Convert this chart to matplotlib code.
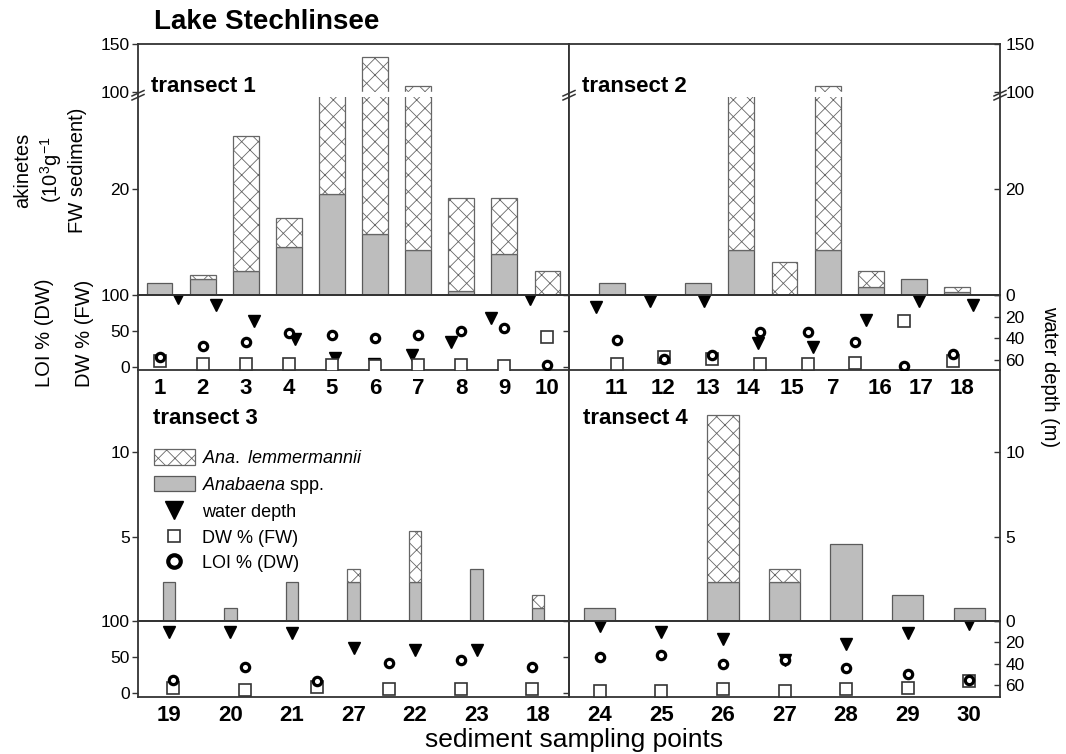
import matplotlib.pyplot as plt
import numpy as np
from matplotlib.lines import Line2D
from matplotlib.patches import Patch

plt.rcParams['font.family'] = ['Liberation Sans', 'DejaVu Sans']
plt.rcParams['mathtext.fontset'] = 'custom'
plt.rcParams['mathtext.rm'] = 'Liberation Sans'
plt.rcParams['mathtext.it'] = 'Liberation Sans:italic'
plt.rcParams['hatch.linewidth'] = 0.6
plt.rcParams['hatch.color'] = '#555555'

# ---------------- data ----------------
# transect 1
t1_labels = ['1', '2', '3', '4', '5', '6', '7', '8', '9', '10']
t1_spp = [2.3, 3.0, 4.6, 9.1, 19.1, 11.5, 8.5, 0.76, 7.7, 0]
t1_lem = [0, 0.8, 25.4, 5.4, 76, 125, 98.5, 17.6, 10.7, 4.6]
t1_dw = [8.8, 4.6, 4.6, 4.0, 3.7, 1.8, 3.2, 3.2, 1.8, 42.4]
t1_loi = [14.7, 29.5, 34.6, 47, 44.7, 40, 44.7, 50.7, 54, 3.2]
t1_depth_x = [1.43, 2.3, 3.2, 4.14, 5.07, 5.97, 6.86, 7.76, 8.69, 9.6]
t1_depth = [3.1, 9.2, 23.7, 41, 58, 64, 55.5, 43, 21.5, 4]

# transect 2
t2_labels = ['11', '12', '13', '14', '15', '7', '16', '17', '18']
t2_label_x = [1.61, 2.68, 3.72, 4.65, 5.67, 6.63, 7.72, 8.67, 9.62]
t2_bar_x = [1.5, 2.5, 3.5, 4.5, 5.5, 6.5, 7.5, 8.5, 9.5]
t2_spp = [2.3, 0, 2.3, 8.5, 0, 8.5, 1.6, 3.1, 0.63]
t2_lem = [0, 0, 0, 89.5, 6.2, 98.5, 3.0, 0, 0.97]
t2_point_x = [1.61, 2.71, 3.82, 4.93, 6.05, 7.14, 8.27, 9.4]
t2_dw = [4.6, 14.7, 11, 4.6, 4.6, 6.5, 64.5, 8.8]
t2_loi = [37.8, 12, 17, 49.3, 48.4, 34.6, 2.3, 18.4]
t2_depth_x = [1.13, 2.38, 3.63, 4.89, 6.15, 7.38, 8.63, 9.88]
t2_depth = [10.8, 5.2, 5.2, 44, 47.7, 23, 5.2, 9.2]

# transect 3
t3_labels = ['19', '20', '21', '27', '22', '23', '18']
t3_spp = [2.3, 0.74, 2.3, 2.3, 2.3, 3.06, 0.74]
t3_lem = [0, 0, 0, 0.76, 3.04, 0, 0.76]
t3_point_x = [1.07, 2.24, 3.4, 4.57, 5.74, 6.9]
t3_dw = [6.9, 4.6, 8.3, 5.5, 5.5, 5.5]
t3_loi = [18.3, 35.8, 17, 41.3, 45.9, 36.7]
t3_depth_x = [1, 2, 3, 4, 5, 6]
t3_depth = [10.3, 10.3, 11.9, 25.9, 26.9, 26.9]

# transect 4
t4_labels = ['24', '25', '26', '27', '28', '29', '30']
t4_spp = [0.77, 0, 2.32, 2.32, 4.58, 1.53, 0.77]
t4_lem = [0, 0, 9.92, 0.76, 0, 0, 0]
t4_dw = [3.7, 3.7, 5.5, 3.7, 5.5, 6.9, 17.4]
t4_loi = [49.5, 52.8, 39.9, 45.9, 34.4, 26.6, 18.3]
t4_depth = [5, 10.9, 17.2, 37, 21.9, 11.9, 3.1]

# ---------------- style ----------------
W, H = 1066, 754
GRAY = '#bdbdbd'
EDGE = '#5a5a5a'
FRAME = '#333333'
TICK_FS = 12.5

fig = plt.figure(figsize=(W / 100, H / 100), dpi=100)


def panel(x0, y0, x1, y1):
    # pixel box (top-left origin) -> figure axes
    return fig.add_axes([x0 / W, 1 - y1 / H, (x1 - x0) / W, (y1 - y0) / H])


def frame(ax, top=True, bottom=True, left=True, right=True):
    for side, on in zip(['top', 'bottom', 'left', 'right'], [top, bottom, left, right]):
        ax.spines[side].set_visible(on)
        ax.spines[side].set_color(FRAME)
        ax.spines[side].set_linewidth(1.3)
    ax.set_xticks([])


def yticks(ax, ticks, side='left', labels=None):
    ax.set_yticks(ticks)
    if labels is not None:
        ax.set_yticklabels(labels)
    if side == 'left':
        ax.tick_params(axis='y', direction='out', length=4, width=1, color=FRAME,
                       labelsize=TICK_FS, pad=2, left=True, right=False,
                       labelleft=True, labelright=False)
    elif side == 'right':
        ax.yaxis.set_ticks_position('right')
        ax.tick_params(axis='y', direction='in', length=4, width=1, color=FRAME,
                       labelsize=TICK_FS, pad=4, left=False, right=True,
                       labelleft=False, labelright=True)
    else:
        ax.tick_params(axis='y', direction='out', length=4, width=1, color=FRAME,
                       left=True, labelleft=False)


def draw_bars(ax, x, spp, lem, width):
    x = np.asarray(x, float)
    spp = np.asarray(spp, float)
    lem = np.asarray(lem, float)
    m = spp > 0
    ax.bar(x[m], spp[m], width, color=GRAY, edgecolor=EDGE, linewidth=0.9)
    m = lem > 0
    ax.bar(x[m], lem[m], width, bottom=spp[m], color='white', edgecolor='#666666',
           hatch='xx', linewidth=0.9)


def draw_points(ax, x, dw, loi, dx, depth, depth_lim, right_labels):
    tw = ax.twinx()
    tw.plot(dx, depth, 'v', color='black', ms=8, ls='none')
    tw.set_ylim(depth_lim, 0)
    for s in tw.spines.values():
        s.set_visible(False)
    if right_labels:
        yticks(tw, [0, 20, 40, 60], 'right', ['', '20', '40', '60'])
    else:
        tw.set_yticks([])
    ax.plot(x, dw, 's', mfc='white', mec='#333333', ms=8, mew=1.2, ls='none', zorder=3)
    ax.plot(x, loi, 'o', mfc='white', mec='black', ms=6, mew=2.3, ls='none', zorder=4)
    ax.set_zorder(tw.get_zorder() + 1)
    ax.patch.set_visible(False)


# ---------------- top row: broken bar axes ----------------
Y_TOP, Y_BRK, Y_BASE, Y_MID = 44.3, 97.3, 295, 370
for k, (x0, x1) in enumerate([(138, 569), (569, 1000)]):
    up = panel(x0, Y_TOP, x1, Y_BRK)
    lo = panel(x0, Y_BRK, x1, Y_BASE)
    if k == 0:
        xs, spp, lem = np.arange(1, 11), t1_spp, t1_lem
    else:
        xs, spp, lem = t2_bar_x, t2_spp, t2_lem
    for ax in (up, lo):
        draw_bars(ax, xs, spp, lem, 0.6)
        ax.set_xlim(0.5, 10.5)
    up.set_ylim(94.8, 150)
    up.axhspan(94.8, 100, color='white', zorder=1.5)
    lo.set_ylim(0, 37.4)
    frame(up, bottom=False)
    frame(lo, top=False)
    if k == 0:
        yticks(up, [100, 150])
        yticks(lo, [20])
    else:
        yticks(up, [100, 150], 'right')
        yticks(lo, [0, 20], 'right')

# break marks on the three vertical lines
for xb in (138, 569, 1000):
    for dy in (0, 4):
        fig.add_artist(Line2D([(xb - 6) / W, (xb + 6) / W],
                              [1 - (96 + dy) / H, 1 - (90.5 + dy) / H],
                              color=FRAME, lw=1.1, transform=fig.transFigure))

# ---------------- top row: points ----------------
sc1 = panel(138, Y_BASE, 569, Y_MID)
sc2 = panel(569, Y_BASE, 1000, Y_MID)
for ax in (sc1, sc2):
    ax.set_xlim(0.5, 10.5)
    ax.set_ylim(-3.7, 100)
    frame(ax)
draw_points(sc1, np.arange(1, 11), t1_dw, t1_loi, t1_depth_x, t1_depth, 69.2, False)
draw_points(sc2, t2_point_x, t2_dw, t2_loi, t2_depth_x, t2_depth, 69.2, True)
yticks(sc1, [0, 50, 100])
yticks(sc2, [0, 50, 100], 'none')
sc1.set_xticks(np.arange(1, 11))
sc1.set_xticklabels(t1_labels)
sc2.set_xticks(t2_label_x)
sc2.set_xticklabels(t2_labels)
for ax in (sc1, sc2):
    ax.tick_params(axis='x', length=0, pad=6, labelsize=16)
    for lab in ax.get_xticklabels():
        lab.set_fontweight('bold')

# ---------------- bottom row ----------------
Y_BASE2, Y_BOT = 620.7, 696.7
b3 = panel(138, Y_MID, 569, Y_BASE2)
b4 = panel(569, Y_MID, 1000, Y_BASE2)
draw_bars(b3, np.arange(1, 8), t3_spp, t3_lem, 0.2)
draw_bars(b4, np.arange(1, 8), t4_spp, t4_lem, 0.51)
for ax in (b3, b4):
    ax.set_xlim(0.5, 7.5)
    ax.set_ylim(0, 14.9)
    frame(ax, top=False)
yticks(b3, [5, 10])
yticks(b4, [0, 5, 10], 'right')

sc3 = panel(138, Y_BASE2, 569, Y_BOT)
sc4 = panel(569, Y_BASE2, 1000, Y_BOT)
for ax in (sc3, sc4):
    ax.set_xlim(0.5, 7.5)
    ax.set_ylim(-4.7, 100)
    frame(ax)
draw_points(sc3, t3_point_x, t3_dw, t3_loi, t3_depth_x, t3_depth, 70.9, False)
draw_points(sc4, np.arange(1, 8), t4_dw, t4_loi, np.arange(1, 8), t4_depth, 70.9, True)
yticks(sc3, [0, 50, 100])
yticks(sc4, [0, 50, 100], 'none')
sc3.set_xticks(np.arange(1, 8))
sc3.set_xticklabels(t3_labels)
sc4.set_xticks(np.arange(1, 8))
sc4.set_xticklabels(t4_labels)
for ax in (sc3, sc4):
    ax.tick_params(axis='x', length=0, pad=6, labelsize=16)
    for lab in ax.get_xticklabels():
        lab.set_fontweight('bold')

# legend inside transect 3
handles = [
    Patch(facecolor='white', edgecolor='#666666', hatch='xx', linewidth=0.9),
    Patch(facecolor=GRAY, edgecolor=EDGE, linewidth=0.9),
    Line2D([0], [0], marker='v', color='black', ms=13, ls='none'),
    Line2D([0], [0], marker='s', mfc='white', mec='#333333', ms=9, mew=1.2, ls='none'),
    Line2D([0], [0], marker='o', mfc='white', mec='black', ms=9, mew=3, ls='none'),
]
labels = [r'$\mathit{Ana.}$ $\mathit{lemmermannii}$', r'$\mathit{Anabaena}$ spp.',
          'water depth', 'DW % (FW)', 'LOI % (DW)']
b3.legend(handles, labels, loc='upper left', bbox_to_anchor=(0.036, 0.685),
          frameon=False, fontsize=13, borderaxespad=0, borderpad=0,
          handlelength=2.3, handleheight=0.95, handletextpad=0.4, labelspacing=0.42)


# ---------------- texts ----------------
def ftext(x, y, s, **kw):
    fig.text(x / W, 1 - y / H, s, **kw)


ftext(154, 22, 'Lake Stechlinsee', fontsize=20, fontweight='bold', va='center')
ftext(151, 87, 'transect 1', fontsize=16, fontweight='bold', va='center')
ftext(582, 87, 'transect 2', fontsize=16, fontweight='bold', va='center')
ftext(153, 419, 'transect 3', fontsize=16, fontweight='bold', va='center')
ftext(583, 419, 'transect 4', fontsize=16, fontweight='bold', va='center')
ftext(50, 170, 'akinetes\n(10$^{3}$g$^{-1}$\nFW sediment)', fontsize=14.5, rotation=90,
      ha='center', va='center', multialignment='center', linespacing=1.3)
ftext(44, 333, 'LOI % (DW)', fontsize=14.5, rotation=90, ha='center', va='center')
ftext(84, 333, 'DW % (FW)', fontsize=14.5, rotation=90, ha='center', va='center')
ftext(1050, 377, 'water depth (m)', fontsize=14.5, rotation=270, ha='center', va='center')
ftext(574, 740, 'sediment sampling points', fontsize=19, ha='center', va='center')

fig.savefig('out.png', dpi=100)
